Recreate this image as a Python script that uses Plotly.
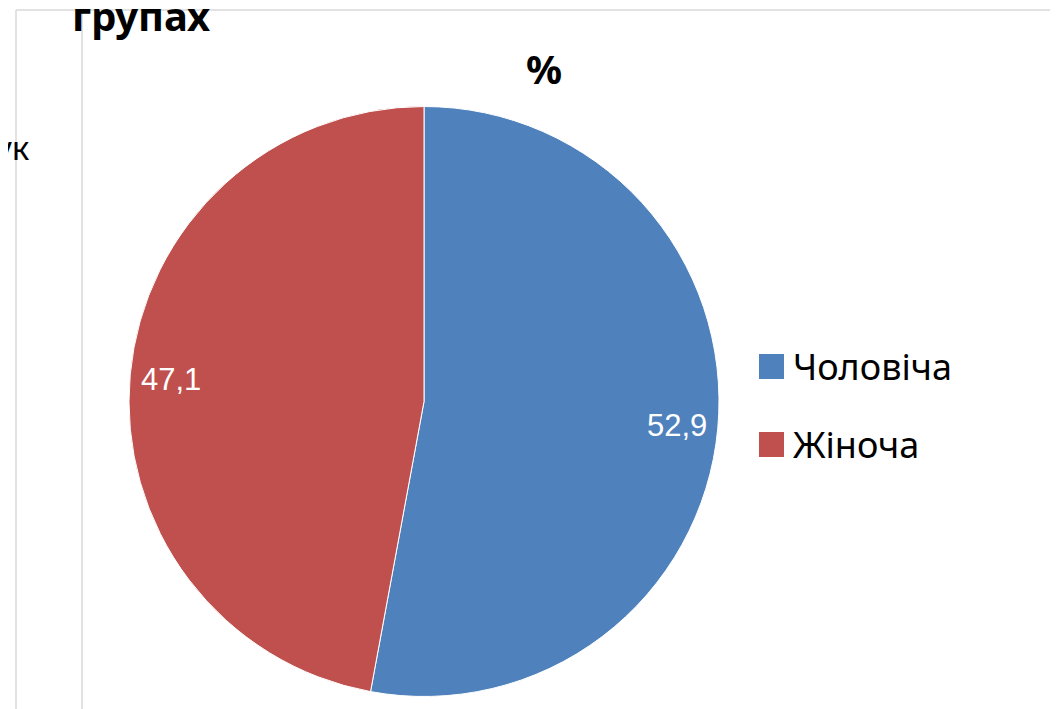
import math
import plotly.graph_objects as go

# ---- data ----
labels = ["Чоловіча", "Жіноча"]
values = [52.9, 47.1]
colors = ["#4F81BD", "#C0504D"]
title_text = "%"
cut_title = "групах"
cut_side = "ук"

# figure is placed by the page with an 8px body margin
OFF = 8
W, H = 1050, 701
def px(x):  # screen x -> paper
    return (x - OFF) / W
def py(y):  # screen y -> paper
    return 1 - (y - OFF) / H

# pie geometry (screen pixels)
cx, cy, R = 424, 401.5, 295

fig = go.Figure(go.Pie(
    labels=labels, values=values, sort=False, direction="clockwise", rotation=0,
    marker=dict(colors=colors, line=dict(color="white", width=1)),
    textinfo="none", hoverinfo="label+value", showlegend=False,
    domain=dict(x=[px(cx - R), px(cx + R)], y=[py(cy + R), py(cy - R)]),
))

annotations = []
total = sum(values)
cum = 0
for lab, v in zip(labels, values):
    mid = (cum + v / 2) / total * 2 * math.pi
    cum += v
    r = 0.86 * R
    x = cx + r * math.sin(mid)
    y = cy - r * math.cos(mid) + 1
    annotations.append(dict(x=px(x), y=py(y), xref="paper", yref="paper",
                            xanchor="center", yanchor="middle",
                            text=f"{v:.1f}".replace(".", ","), showarrow=False,
                            font=dict(family="Liberation Sans", size=31, color="white")))

# custom legend
shapes = []
leg_y = [366.5, 444.5]
for i, lab in enumerate(labels):
    yc = leg_y[i]
    shapes.append(dict(type="rect", xref="paper", yref="paper",
                       x0=px(759), x1=px(784), y0=py(yc + 12.5), y1=py(yc - 12.5),
                       fillcolor=colors[i], line=dict(width=0)))
    annotations.append(dict(x=px(791), y=py(yc), xref="paper", yref="paper",
                            xanchor="left", yanchor="middle", text=lab, showarrow=False,
                            font=dict(family="Noto Sans", size=36, color="black")))

# frame lines
line_style = dict(color="#D9D9D9", width=1.5)
shapes.append(dict(type="line", xref="paper", yref="paper", x0=px(16), x1=px(16), y0=py(10), y1=0, line=line_style))
shapes.append(dict(type="line", xref="paper", yref="paper", x0=px(82), x1=px(82), y0=py(10), y1=0, line=line_style))
shapes.append(dict(type="line", xref="paper", yref="paper", x0=px(16), x1=1, y0=py(10), y1=py(10), line=line_style))

# titles
annotations.append(dict(x=px(544), y=py(69), xref="paper", yref="paper",
                        xanchor="center", yanchor="middle", text=f"<b>{title_text}</b>",
                        showarrow=False, font=dict(family="Noto Sans", size=40, color="black")))
annotations.append(dict(x=px(141), y=py(45), xref="paper", yref="paper",
                        xanchor="center", yanchor="bottom",
                        text=f"<b>{cut_title}</b>", showarrow=False,
                        font=dict(family="Noto Sans", size=40, color="black")))
annotations.append(dict(x=px(32), y=py(147), xref="paper", yref="paper",
                        xanchor="right", yanchor="middle",
                        text=cut_side, showarrow=False,
                        font=dict(family="Noto Sans", size=33, color="black")))

fig.update_layout(width=W, height=H, margin=dict(l=0, r=0, t=0, b=0),
                  paper_bgcolor="white", plot_bgcolor="white",
                  shapes=shapes, annotations=annotations)
fig.write_html("out.html")
